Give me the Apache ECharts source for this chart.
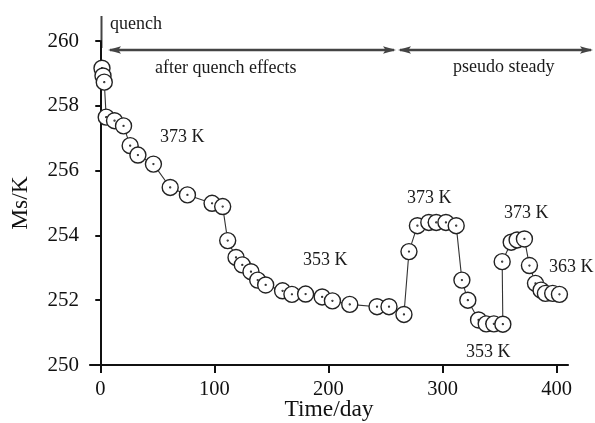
<!DOCTYPE html>
<html>
<head>
<meta charset="utf-8">
<script src="https://cdn.jsdelivr.net/npm/echarts@6/dist/echarts.min.js"></script>
<style>html,body{margin:0;padding:0;background:#fff}#c{width:595px;height:423px}</style>
</head>
<body>
<div id="c"></div>
<script>
var days = [1.5, 2.4, 3.5, 5.2, 12.5, 20.4, 26.2, 33, 46.6, 61.3, 76.4, 98, 107.3, 111.7, 119, 124.5, 132.1, 138, 145, 159.8, 168, 180, 194.5, 203.5, 218.7, 242.6, 253.1, 266.2, 270.6, 278, 288, 294.5, 303, 312, 317, 322.2, 331.6, 338.3, 345, 352.9, 352.3, 360.2, 365.4, 371.8, 376.2, 381.5, 386.4, 390.2, 396.6, 402.5];
var ms = [259.16, 258.92, 258.73, 257.65, 257.54, 257.38, 256.77, 256.48, 256.2, 255.48, 255.25, 254.99, 254.89, 253.84, 253.32, 253.09, 252.88, 252.62, 252.47, 252.29, 252.18, 252.19, 252.1, 251.98, 251.87, 251.8, 251.8, 251.56, 253.5, 254.3, 254.4, 254.4, 254.4, 254.3, 252.62, 252.0, 251.39, 251.27, 251.27, 251.26, 253.19, 253.79, 253.86, 253.89, 253.07, 252.52, 252.31, 252.21, 252.21, 252.18];
var xTicks = [0, 100, 200, 300, 400];
var yTicks = [250, 252, 254, 256, 258, 260];

var data = days.map(function (d, i) { return [d, ms[i]]; });
var font = '"Liberation Serif", "Times New Roman", serif';
var symbolPath = 'path://M0,-8A8,8 0 1,1 0,8A8,8 0 1,1 0,-8Z M0,-0.45A0.45,0.45 0 1,1 0,0.45A0.45,0.45 0 1,1 0,-0.45Z';

function arrowHead(x, y, dir) {
  var L = 13, W = 3.8;
  return { type: 'polygon', shape: { points: [[x, y], [x - dir * L, y - W], [x - dir * L * 0.8, y], [x - dir * L, y + W]] }, style: { fill: '#444' } };
}
function txt(x, y, s, size) {
  return { type: 'text', x: x, y: y, style: { text: s, font: size + 'px ' + font, fill: '#1a1a1a', textVerticalAlign: 'middle' } };
}

var chart = echarts.init(document.getElementById('c'), null, { renderer: 'canvas' });
chart.setOption({
  animation: false,
  backgroundColor: '#fff',
  grid: { left: 90, right: 27, top: 41, bottom: 58, containLabel: false, outerBoundsMode: 'none' },
  xAxis: {
    type: 'value', min: -9, max: 410,
    name: 'Time/day', nameLocation: 'middle', nameGap: 33, nameMoveOverlap: false,
    nameTextStyle: { fontFamily: font, fontSize: 23.5, color: '#111' },
    axisLine: { lineStyle: { color: '#111', width: 2.2 } },
    axisTick: { show: true, customValues: xTicks, length: 8, lineStyle: { color: '#111', width: 2 } },
    axisLabel: { customValues: xTicks, fontFamily: font, fontSize: 20.5, color: '#111', margin: 14 },
    splitLine: { show: false }
  },
  yAxis: {
    type: 'value', min: 250, max: 260, interval: 2,
    name: 'Ms/K', nameLocation: 'middle', nameGap: 57, nameRotate: 90, nameMoveOverlap: false,
    nameTextStyle: { fontFamily: font, fontSize: 23.5, color: '#111' },
    axisLine: { show: true, lineStyle: { color: '#111', width: 2 } },
    axisTick: { show: true, length: 5, lineStyle: { color: '#111', width: 2 } },
    axisLabel: { fontFamily: font, fontSize: 21, color: '#111', margin: 11 },
    splitLine: { show: false }
  },
  series: [{
    type: 'line',
    data: data,
    symbol: symbolPath,
    symbolSize: 16,
    showAllSymbol: true,
    clip: false,
    lineStyle: { color: '#333', width: 1.1 },
    itemStyle: { color: '#fff', borderColor: '#222', borderWidth: 1.4 },
    z: 3
  }],
  graphic: [
    { type: 'line', shape: { x1: 101.5, y1: 16, x2: 101.5, y2: 48 }, style: { stroke: '#444', lineWidth: 2 } },
    { type: 'line', shape: { x1: 110, y1: 50, x2: 394, y2: 50 }, style: { stroke: '#444', lineWidth: 2.4 } },
    arrowHead(108, 50, -1), arrowHead(396, 50, 1),
    { type: 'line', shape: { x1: 400, y1: 50, x2: 591, y2: 50 }, style: { stroke: '#444', lineWidth: 2.4 } },
    arrowHead(398, 50, -1), arrowHead(593, 50, 1),
    txt(110, 24, 'quench', 18),
    txt(155, 68, 'after quench effects', 18),
    txt(453, 67, 'pseudo steady', 18),
    txt(160, 137, '373 K', 18),
    txt(303, 260, '353 K', 18),
    txt(407, 198, '373 K', 18),
    txt(504, 213, '373 K', 18),
    txt(549, 267, '363 K', 18),
    txt(466, 352, '353 K', 18)
  ]
});
</script>
</body>
</html>
